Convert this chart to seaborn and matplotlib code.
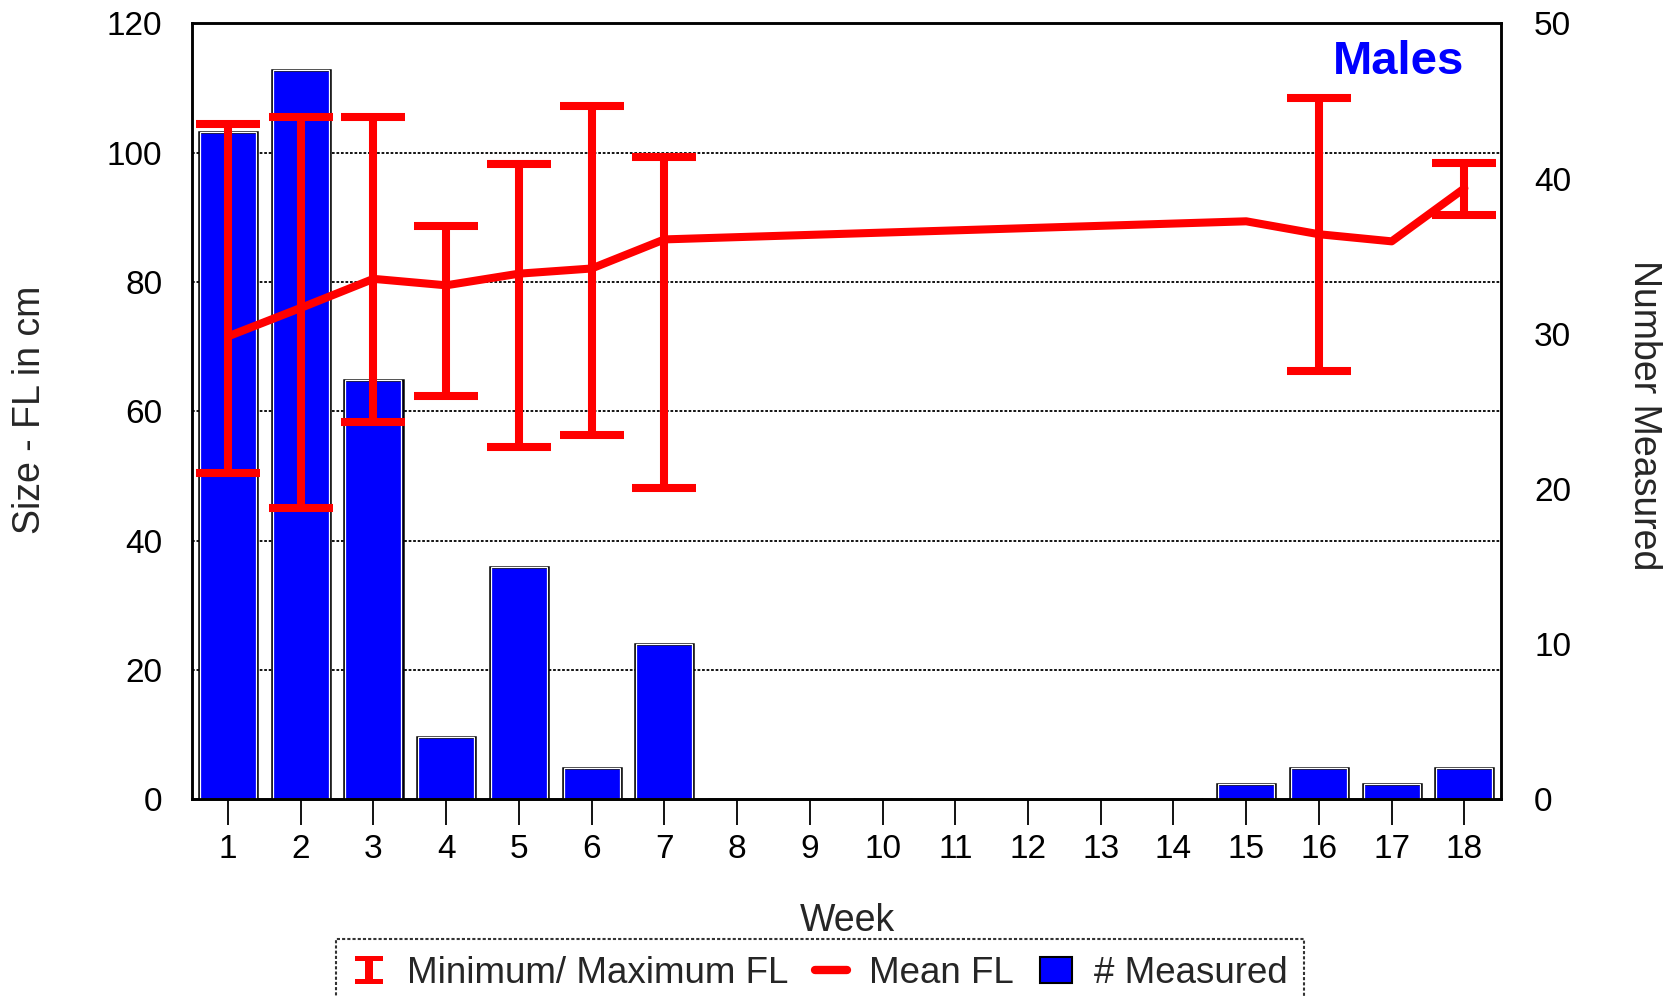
import numpy as np
import matplotlib
matplotlib.use("Agg")
import matplotlib.pyplot as plt
import seaborn as sns
from matplotlib.lines import Line2D
from matplotlib.patches import Patch
from matplotlib.path import Path

weeks = list(range(1, 19))
n_measured = [43, 47, 27, 4, 15, 2, 10, 0, 0, 0, 0, 0, 0, 0, 1, 2, 1, 2]

mean_weeks = [1, 2, 3, 4, 5, 6, 7, 15, 16, 17, 18]
mean_fl = [71.6, 76.0, 80.5, 79.5, 81.3, 82.1, 86.6, 89.4, 87.4, 86.3, 94.5]

range_weeks = [1, 2, 3, 4, 5, 6, 7, 16, 18]
min_fl = [50.4, 45.1, 58.4, 62.4, 54.5, 56.3, 48.2, 66.3, 90.4]
max_fl = [104.5, 105.5, 105.5, 88.6, 98.3, 107.3, 99.3, 108.5, 98.4]

size_ticks = [0, 20, 40, 60, 80, 100, 120]
count_ticks = [0, 10, 20, 30, 40, 50]

sns.set_theme(style="white")
plt.rcParams["font.family"] = ["Liberation Sans", "DejaVu Sans"]

fig = plt.figure(figsize=(16.69, 9.97), dpi=100)
ax = fig.add_axes([0.1148, 0.1982, 0.7844, 0.7783])
ax2 = ax.twinx()
# size axis (line + ranges) drawn above the count bars
ax.set_zorder(ax2.get_zorder() + 1)
ax.patch.set_visible(False)

dot = (0, (1.5, 1.0))

# grid of the size axis, placed beneath the bars
for t in size_ticks[1:-1]:
    ax2.add_line(Line2D([0, 1], [t, t], transform=ax.get_yaxis_transform(),
                        color="black", lw=1.3, ls=dot, zorder=0))

sns.barplot(x=weeks, y=n_measured, native_scale=True, ax=ax2, color="blue",
            saturation=1, width=0.8, edgecolor="black", linewidth=1.8,
            errorbar=None, zorder=2)
# thin white inner outline of the bars
sns.barplot(x=weeks, y=n_measured, native_scale=True, ax=ax2, color="none",
            saturation=1, width=0.77, edgecolor="white", linewidth=0.9,
            errorbar=None, zorder=3, fill=False)

mid = [(a + b) / 2 for a, b in zip(min_fl, max_fl)]
ax.errorbar(range_weeks, mid,
            yerr=[[m - lo for m, lo in zip(mid, min_fl)],
                  [hi - m for m, hi in zip(mid, max_fl)]],
            fmt="none", ecolor="red", elinewidth=5.8, capsize=23, capthick=5.8)
sns.lineplot(x=mean_weeks, y=mean_fl, ax=ax, color="red", lw=5.8, sort=True)

ax.set_xlim(0.5, 18.5)
ax.set_ylim(0, 120)
ax2.set_ylim(0, 50)
ax.set_xticks(weeks)
ax.set_xticklabels([str(w) for w in weeks])
ax.set_yticks(size_ticks)
ax2.set_yticks(count_ticks)
ax2.set_xlabel("")
ax2.set_ylabel("")

ax.tick_params(axis="x", which="both", bottom=True, length=19, width=1.3,
               color="black", labelsize=24, pad=6, labelcolor="black")
ax.tick_params(axis="y", left=False, labelsize=24, pad=15, labelcolor="black")
ax2.tick_params(axis="y", right=False, labelsize=24, pad=18, labelcolor="black")
ax2.tick_params(axis="x", bottom=False, labelbottom=False)

for a in (ax, ax2):
    for s in a.spines.values():
        s.set_color("black")
        s.set_linewidth(1.8)
        s.set_linestyle(dot)
ax.spines["bottom"].set_linestyle("-")
ax.spines["bottom"].set_linewidth(2)

ax.set_xlabel("")
ax.set_ylabel("")
fig.text(847 / 1669, 1 - 921 / 997, "Week", fontsize=27, ha="center", va="center")
fig.text(30 / 1669, 1 - 410 / 997, "Size - FL in cm", fontsize=27,
         rotation=90, ha="center", va="center")
fig.text(1644 / 1669, 1 - 415 / 997, "Number Measured", fontsize=27,
         rotation=270, ha="center", va="center")

ax.text(0.922, 0.95, "Males", transform=ax.transAxes, color="blue",
        fontsize=34, fontweight="bold", ha="center", va="center")

# "I" shaped marker for the min/max legend entry
i_shape = Path([(-1, 1), (1, 1), (1, 0.62), (0.28, 0.62), (0.28, -0.62),
                (1, -0.62), (1, -1), (-1, -1), (-1, -0.62), (-0.28, -0.62),
                (-0.28, 0.62), (-1, 0.62), (-1, 1)])
handles = [
    Line2D([0], [0], color="red", lw=0, marker=i_shape, markersize=20,
           markerfacecolor="red", markeredgewidth=0),
    Line2D([0], [0], color="red", lw=6),
    Patch(facecolor="blue", edgecolor="black", linewidth=1.5),
]
leg = fig.legend(handles, ["Minimum/ Maximum FL", "Mean FL", "# Measured"],
                 loc="upper left", bbox_to_anchor=(336 / 1669, 1 - 939 / 997),
                 ncol=3, fontsize=26.5, frameon=True, fancybox=False,
                 handlelength=0.87, handletextpad=0.6, columnspacing=0.72,
                 borderpad=0.45, borderaxespad=0)
leg.get_frame().set_edgecolor("black")
leg.get_frame().set_linewidth(1.5)
leg.get_frame().set_linestyle(dot)

fig.savefig("out.png", dpi=100)
